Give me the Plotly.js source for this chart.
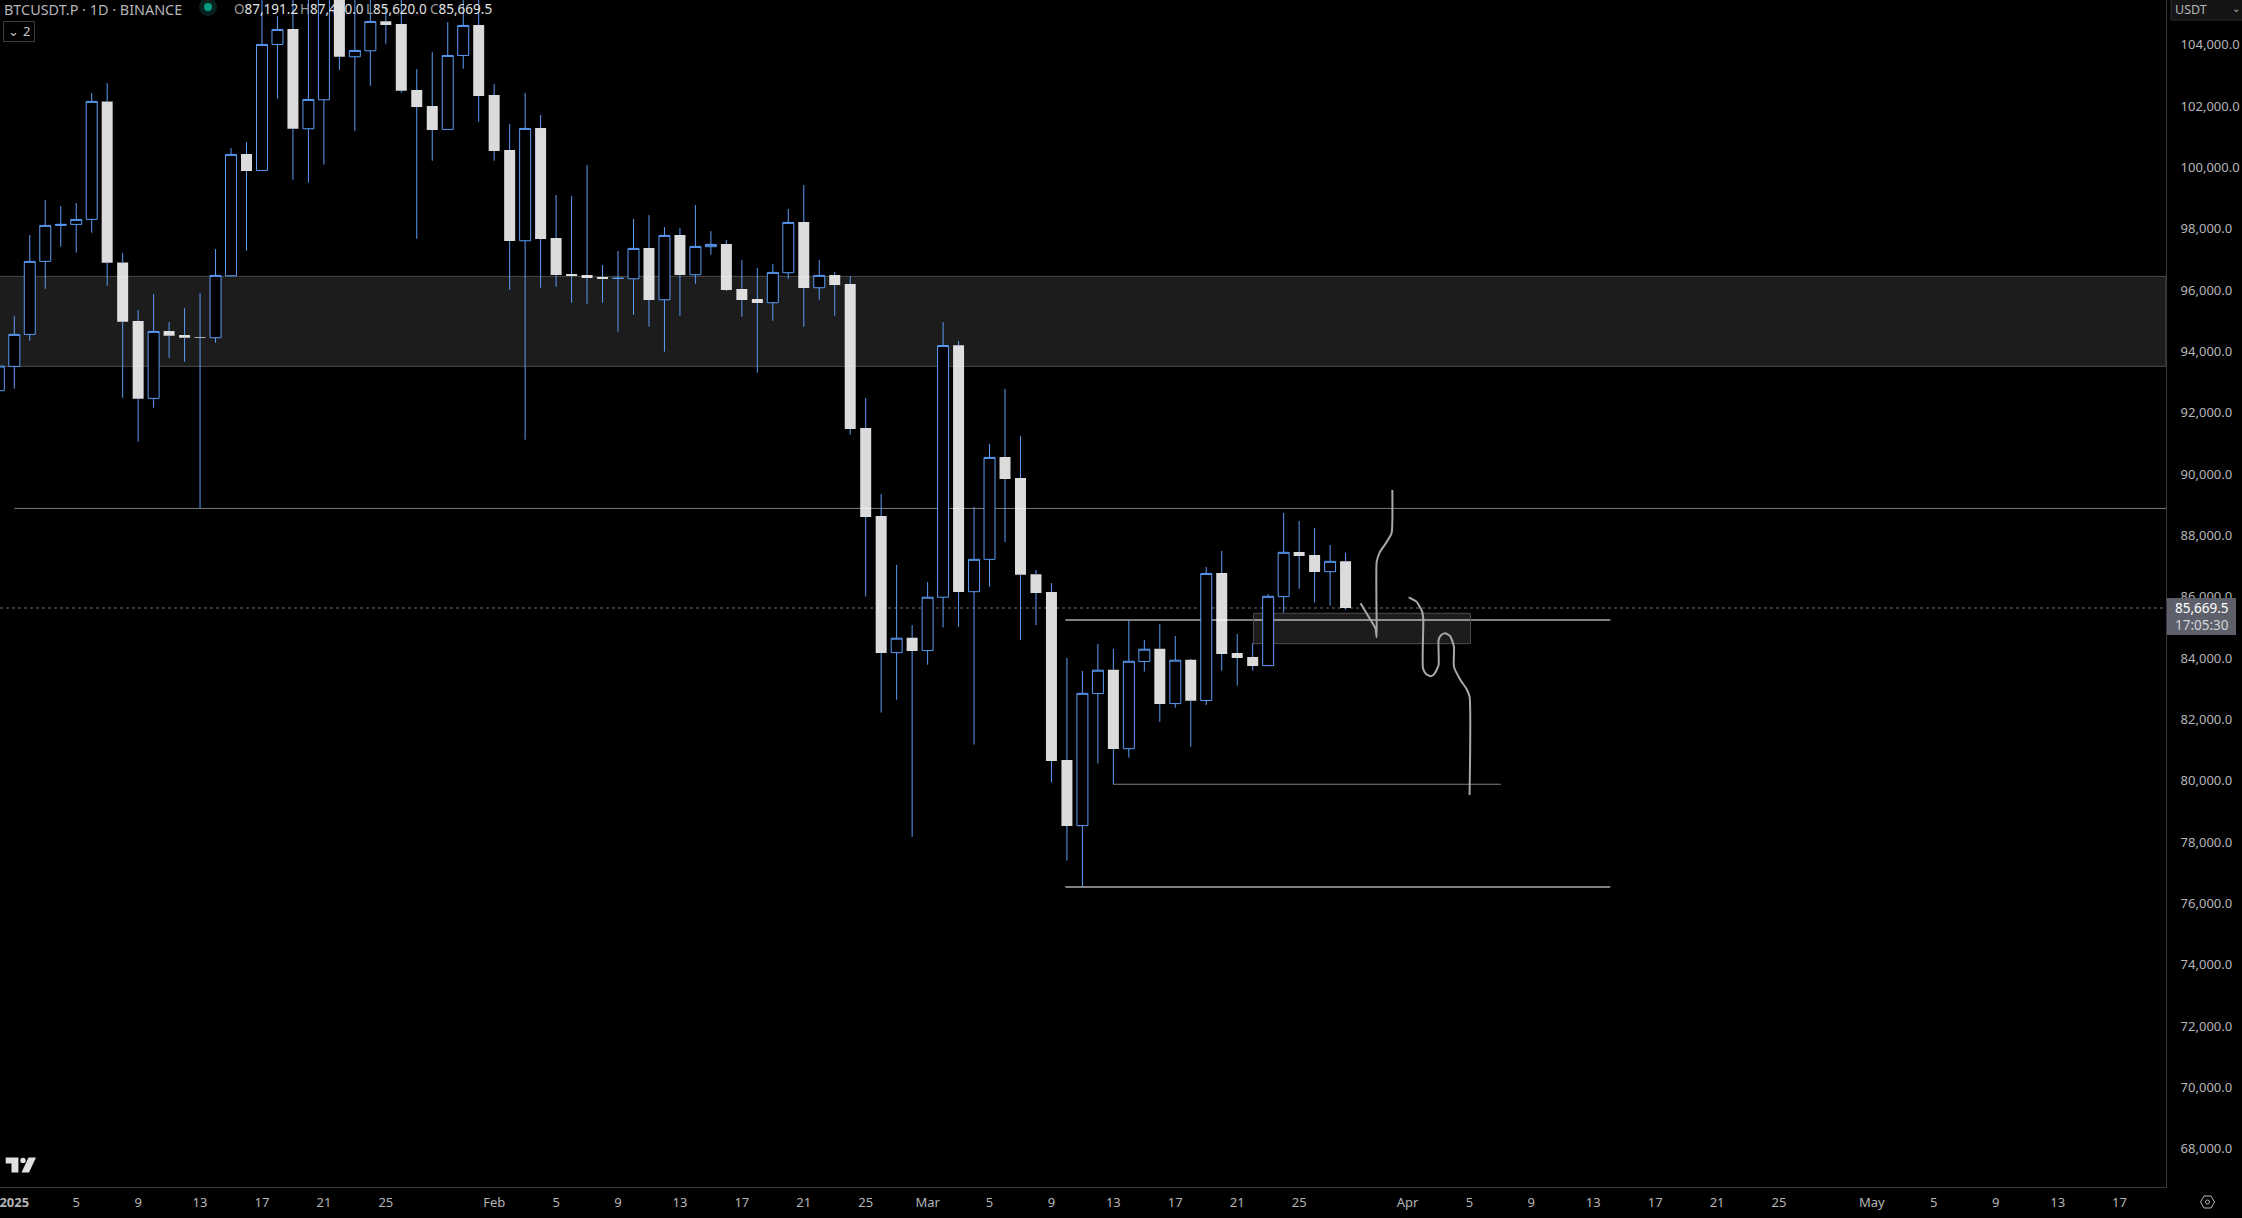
<!DOCTYPE html>
<html>
<head>
<meta charset="utf-8">
<script src="https://cdn.plot.ly/plotly-3.0.1.min.js"></script>
<style>html,body{margin:0;padding:0;background:#000;overflow:hidden}#chart{width:2242px;height:1218px}</style>
</head>
<body>
<div id="chart"></div>
<script>
// Daily candles from 31 Dec 2024 to 28 Mar 2025
const firstDayOffset = -1;
const opens = [92754,
93548,94591,96971,98144,98177,98340,102187,96938,95025,92504,94699,94569,94504,94482,96503,100470,99937,104045,104545,101295,102241,106142,103643,103838,104805,104708,102556,102034,101274,103686,104675,
102393,100600,97644,101317,97731,96558,96525,96460,96416,96405,97405,95721,97829,96536,97449,97536,96069,95743,95623,96601,98253,96112,96525,96232,91537,88670,84214,84696,
84281,86021,94238,86201,87256,90590,89905,86773,86189,80714,78573,82878,83652,81082,83922,84337,82552,83978,82653,86810,84202,84072,83789,86039,87495,87397,86854,87191.2];
const highs = [93917,
95188,97829,98970,98774,98872,102458,102784,97242,95384,95906,94993,95449,95938,97373,100665,100861,106142,104968,106140,106140,106500,106500,106140,106140,105273,105600,103241,103795,104773,105600,105520,
102752,101448,102458,101741,99133,99100,100111,96851,97307,98351,98481,98090,98057,98807,97959,97666,97014,96753,96884,98677,99459,97014,96623,96492,92515,89389,87076,85112,
86515,94991,94373,88962,91017,92813,91275,86908,86481,84039,83615,84494,84337,85258,84629,85145,84753,84012,87009,87527,84822,84528,86126,88766,88505,88277,87723,87470];
const lows = [92613,
92820,94384,96079,97449,97253,97905,96177,92526,91092,92200,93830,93700,88929,94319,96471,97318,99930,102274,99633,99535,100122,103219,101230,102697,104066,102469,97709,100252,101274,103251,101524,
100252,96047,91157,96112,96145,95623,95590,95623,94678,95232,94841,94026,95199,96242,97188,96003,95167,93341,95036,96405,94841,95721,95199,91320,86043,82260,82676,78208,
83821,85033,85056,81216,86358,87817,84629,85112,79981,77432,76585,80599,79925,80790,83596,81957,82418,81149,82507,83626,83137,83626,83789,85517,86299,85843,85745,85620];
const closes = [93558,
94591,96971,98144,98177,98340,102187,96927,95004,92494,94688,94547,94482,94482,96514,100459,99915,104045,104534,101295,102252,106142,103643,103849,104795,104675,102534,102002,101252,103686,104664,102360,
100567,97633,101306,97699,96525,96492,96427,96395,96420,97394,95710,97818,96525,97459,97525,96036,95710,95612,96612,98242,96101,96514,96199,91505,88637,84202,84685,84270,
86021,94227,86189,87256,90579,89872,86751,86156,80677,78562,82887,83641,81070,83933,84326,82541,83967,82642,86796,84170,84039,83778,86050,87484,87364,86843,87191,85669.5];

// Price axis
const priceTicks = [68000,70000,72000,74000,76000,78000,80000,82000,84000,86000,88000,90000,92000,94000,96000,98000,100000,102000,104000];
const priceRange = [66790,105494];

// Time axis: labels placed at days counted from 1 Jan 2025
const timeTickDays = [0,4,8,12,16,20,24,31,35,39,43,47,51,55,59,63,67,71,75,79,83,90,94,98,102,106,110,114,120,124,128,132,136];
const timeTickText = ['<b>2025</b>','5','9','13','17','21','25','Feb','5','9','13','17','21','25','Mar','5','9','13','17','21','25','Apr','5','9','13','17','21','25','May','5','9','13','17'];
const timeRangeDays = [-0.924,139];

// Drawn levels and zones
const lastPrice = 85669.5;
const zoneTop = 96482, zoneBottom = 93549;
const level1Price = 88916, level1Start = 0;
const level2Price = 85278, level2Days = [67.9,103.1];
const level3Price = 79922, level3Days = [70.98,96.04];
const level4Price = 76574, level4Days = [67.9,103.1];
const boxDays = [80.05,94.07], boxPrices = [84505,85496];

// Free-hand projected paths
const path1Days = [86.97,87.49,87.93,88.01,88.01,88.23,88.60,88.97,89.02];
const path1Prices = [85821,85387,85006,84713,87180,87506,87777,88103,89516];
const path2Days = [90.08,90.58,90.95,91.02,91.0,91.2,91.52,91.76,92.01,92.01,92.18,92.43,92.75,93.0,93.0,93.42,93.79,94.01,94.01];
const path2Prices = [86017,85876,85550,85278,83702,83518,83441,83539,83811,84626,84789,84843,84756,84409,83757,83322,83050,82779,79573];

const BLUE = '#5b9cf6', AXIS_TEXT = '#b4b5b8', AXIS_LINE = '#3a3a40';
const FONT = '"Noto Sans", sans-serif';
const PLOT_W = 2166, PLOT_H = 1187;
const day = d => new Date(Date.UTC(2025,0,1) + d*864e5).toISOString();
const px = x => x/PLOT_W, py = y => 1 - y/PLOT_H;
const polyPath = pts => 'M ' + pts.map(p => px(p[0]).toFixed(6)+','+py(p[1]).toFixed(6)).join(' L ') + ' Z';

const dates = opens.map((_,i) => day(i + firstDayOffset));

// wicks: high to body top and body bottom to low
const wickX = [], wickY = [];
dates.forEach((d,i) => {
  const top = Math.max(opens[i],closes[i]), bot = Math.min(opens[i],closes[i]);
  wickX.push(d,d,null,d,d,null);
  wickY.push(highs[i],top,null,bot,lows[i],null);
});

const traces = [
  {type:'scatter',mode:'lines',x:wickX,y:wickY,line:{color:BLUE,width:1},hoverinfo:'skip',showlegend:false,connectgaps:false},
  {type:'candlestick',x:dates,open:opens,close:closes,
   high:opens.map((o,i)=>Math.max(o,closes[i])),low:opens.map((o,i)=>Math.min(o,closes[i])),
   increasing:{line:{color:BLUE,width:1},fillcolor:'#000'},
   decreasing:{line:{color:'rgba(0,0,0,0)',width:0},fillcolor:'rgba(255,255,255,0.86)'},
   hoverinfo:'skip',showlegend:false},
  {type:'scatter',mode:'lines',x:path1Days.map(day),y:path1Prices,line:{color:'#a8a8a8',width:2,shape:'spline',smoothing:0.5},hoverinfo:'skip',showlegend:false},
  {type:'scatter',mode:'lines',x:path2Days.map(day),y:path2Prices,line:{color:'#a8a8a8',width:2,shape:'spline',smoothing:0.5},hoverinfo:'skip',showlegend:false}
];

const hline = (x0,x1,y,width,color,dash) => ({type:'line',xref:'x',yref:'y',x0:day(x0),x1:day(x1),y0:y,y1:y,line:{color,width,dash:dash||'solid'},layer:'below'});
const pRect = (x0,y0,x1,y1,fill,line) => ({type:'rect',xref:'paper',yref:'paper',x0:px(x0),x1:px(x1),y0:py(y0),y1:py(y1),fillcolor:fill,line:{color:line||'rgba(0,0,0,0)',width:line?1:0},layer:'above'});

const shapes = [
  {type:'rect',xref:'paper',yref:'y',x0:-0.002,x1:1,y0:zoneBottom,y1:zoneTop,fillcolor:'#1c1c1c',line:{color:'#4a4a4a',width:1},layer:'below'},
  {type:'line',xref:'paper',yref:'y',x0:0,x1:1,y0:lastPrice,y1:lastPrice,line:{color:'#6e6e6e',width:1,dash:'dot'},layer:'below'},
  hline(level1Start,timeRangeDays[1],level1Price,1,'#7c7c7c'),
  hline(level2Days[0],level2Days[1],level2Price,2,'#808080'),
  hline(level3Days[0],level3Days[1],level3Price,1,'#7c7c7c'),
  hline(level4Days[0],level4Days[1],level4Price,2,'#808080'),
  {type:'rect',xref:'x',yref:'y',x0:day(boxDays[0]),x1:day(boxDays[1]),y0:boxPrices[0],y1:boxPrices[1],fillcolor:'rgba(255,255,255,0.11)',line:{color:'#4a4a4a',width:1},layer:'below'},
  // indicator pill and legend toggle
  {type:'circle',xref:'paper',yref:'paper',x0:px(199),x1:px(217),y0:py(-2),y1:py(16),fillcolor:'#06231f',line:{width:0},layer:'above'},
  {type:'circle',xref:'paper',yref:'paper',x0:px(204),x1:px(212),y0:py(3),y1:py(11),fillcolor:'#089981',line:{width:0},layer:'above'},
  {type:'rect',xref:'paper',yref:'paper',x0:px(3.5),x1:px(34.5),y0:py(41.5),y1:py(21.5),fillcolor:'#000',line:{color:'#3c3c3c',width:1},layer:'above'},
  // TradingView mark
  {type:'path',xref:'paper',yref:'paper',path:polyPath([[5.7,1157.5],[18.4,1157.5],[18.4,1172.5],[11.5,1172.5],[11.5,1163.5],[5.7,1163.5]]),fillcolor:'#e0e0e0',line:{width:0},layer:'above'},
  {type:'path',xref:'paper',yref:'paper',path:polyPath([[28.5,1157.5],[36,1157.5],[29,1172.5],[21.5,1172.5]]),fillcolor:'#e0e0e0',line:{width:0},layer:'above'},
  {type:'circle',xref:'paper',yref:'paper',x0:px(20.3),x1:px(25.7),y0:py(1157.7),y1:py(1163.1),fillcolor:'#e0e0e0',line:{width:0},layer:'above'},
  // USDT selector
  {type:'rect',xref:'paper',yref:'paper',x0:px(2171),x1:px(2245),y0:py(-4),y1:py(20),fillcolor:'#151515',line:{color:'#2e2e2e',width:1},layer:'above'},
  // chart settings hexagon
  {type:'path',xref:'paper',yref:'paper',path:polyPath([[2200.5,1202],[2204,1196],[2211,1196],[2214.5,1202],[2211,1208],[2204,1208]]),fillcolor:'rgba(0,0,0,0)',line:{color:'#b4b5b8',width:1},layer:'above'},
  {type:'circle',xref:'paper',yref:'paper',x0:px(2205.5),x1:px(2209.5),y0:py(1200),y1:py(1204),fillcolor:'rgba(0,0,0,0)',line:{color:'#b4b5b8',width:1},layer:'above'},
  // last price tag
  pRect(2167,598,2236,635,'#5d606b')
];

const note = (x,y,text,color,size,anchor,extra) => Object.assign({xref:'paper',yref:'paper',x:px(x),y:py(y),text,showarrow:false,xanchor:anchor||'left',yanchor:'middle',font:{family:FONT,size:size||13,color:color||AXIS_TEXT},borderpad:0,align:'left'},extra||{});

const annotations = [
  note(3,9,'BTCUSDT.P · 1D · BINANCE','#b4b5b8',14.4),
  note(233,9,'<span style="color:#9a9a9a">O</span>87,191.2','#e2e2e2',13.5),
  note(299,9,'<span style="color:#9a9a9a">H</span>87,470.0','#e2e2e2',13.5),
  note(365,9,'<span style="color:#9a9a9a">L</span>85,620.0','#e2e2e2',13.5),
  note(429,9,'<span style="color:#9a9a9a">C</span>85,669.5','#e2e2e2',13.5),
  note(13,31,'⌄','#c8c8c8',13,'center',{font:{family:'"DejaVu Sans"',size:13,color:'#c8c8c8'}}),
  note(26,31.5,'2','#c8c8c8',13,'center'),
  note(2174,9,'USDT','#b4b5b8',12.5),
  note(2236,8,'⌄','#b4b5b8',10,'center',{font:{family:'"DejaVu Sans"',size:10,color:'#b4b5b8'}}),
  note(2201.5,607.5,'85,669.5','#ffffff',13.5,'center'),
  note(2201.5,625,'17:05:30','#d4d5d8',13.5,'center')
];

const layout = {
  width:2242,height:1218,
  margin:{l:0,r:76,t:0,b:31,pad:0},
  paper_bgcolor:'#000',plot_bgcolor:'#000',
  font:{family:FONT,size:13,color:AXIS_TEXT},
  showlegend:false,
  hovermode:false,
  dragmode:false,
  boxmode:'overlay',
  boxgap:0.29,
  boxgroupgap:0,
  xaxis:{type:'date',range:timeRangeDays.map(day),tickmode:'array',tickvals:timeTickDays.map(day),ticktext:timeTickText,
    showgrid:false,zeroline:false,showline:true,linecolor:AXIS_LINE,linewidth:1,ticks:'',tickfont:{family:FONT,size:13,color:AXIS_TEXT},
    rangeslider:{visible:false},ticklabelstandoff:3,ticklabeloverflow:'allow',automargin:false},
  yaxis:{type:'linear',side:'right',range:priceRange,tickmode:'array',tickvals:priceTicks,tickformat:',.1f',
    showgrid:false,zeroline:false,showline:true,linecolor:AXIS_LINE,linewidth:1,ticks:'',tickfont:{family:FONT,size:13,color:AXIS_TEXT},
    ticklabelstandoff:11,ticklabelshift:-1,automargin:false},
  shapes,annotations
};
Plotly.newPlot('chart',traces,layout,{displayModeBar:false,responsive:false});
</script>
</body>
</html>
